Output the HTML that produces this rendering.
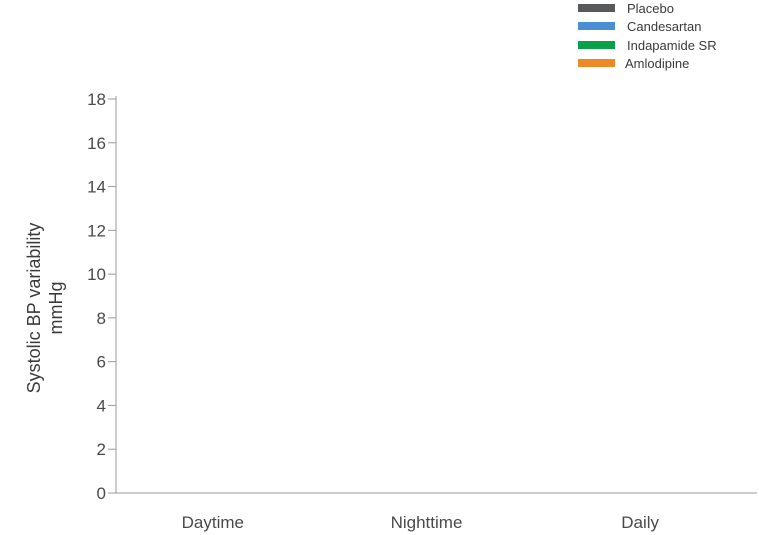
<!DOCTYPE html>
<html><head><meta charset="utf-8"><style>
body{margin:0;background:#fff;}
svg{display:block;font-family:"Liberation Sans",sans-serif;}
</style></head><body>
<svg id="chart" width="759" height="535">
<g id="legend"></g>
<g id="axes"></g>
<g id="bars"></g>
<text transform="translate(40,308) rotate(-90)" text-anchor="middle" font-size="18" fill="#3a3a3a">Systolic BP variability</text>
<text transform="translate(62,308) rotate(-90)" text-anchor="middle" font-size="18" fill="#3a3a3a">mmHg</text>
</svg>
<script>
const categories=["Daytime","Nighttime","Daily"];
const seriesNames=["Placebo","Candesartan","Indapamide SR","Amlodipine"];
const seriesColors=["#58595b","#4a8fd3","#0aa14a","#ee8a26"];
const placebo=[0,0,0];
const candesartan=[0,0,0];
const indapamide=[0,0,0];
const amlodipine=[0,0,0];
const yTicks=[0,2,4,6,8,10,12,14,16,18];

const NS="http://www.w3.org/2000/svg";
function mk(t,a,p){const e=document.createElementNS(NS,t);for(const k in a)e.setAttribute(k,a[k]);p.appendChild(e);return e;}
const x0=116,x1=757,y0=493,yTop=99,yMax=18;
const yS=v=>y0-(v/yMax)*(y0-yTop);
const bw=(x1-x0)/categories.length;
const xC=i=>x0+bw*(i+0.5)-10;
const axes=document.getElementById('axes');
const bars=document.getElementById('bars');
const legend=document.getElementById('legend');
let l=mk('line',{x1:x0,y1:yTop-3,x2:x0,y2:y0,stroke:'#9a9a9a','stroke-width':1},axes);


l=mk('line',{x1:x0-8,y1:y0,x2:x1,y2:y0,stroke:'#9a9a9a','stroke-width':1},axes);


yTicks.forEach(v=>{
 const t=mk('line',{x1:x0-8,x2:x0,y1:yS(v),y2:yS(v),stroke:'#9a9a9a'},axes);
 
 
 const tx=mk('text',{x:x0-10,y:yS(v)+6,'text-anchor':'end','font-size':17,fill:'#4a4a4a'},axes);
 tx.textContent=v;
 
 
});
categories.forEach((c,i)=>{
 const tx=mk('text',{x:xC(i),y:528,'text-anchor':'middle','font-size':17,fill:'#4a4a4a'},axes);
 tx.textContent=c;
 
 
});
const series=[placebo,candesartan,indapamide,amlodipine];
const gw=bw*0.7, sw=gw/series.length;
series.forEach((s,j)=>s.forEach((v,i)=>{
 const x=xC(i)-gw/2+j*sw;
 const r=mk('rect',{x:x,y:yS(v),width:sw-4,height:y0-yS(v),fill:seriesColors[j]},bars);
 
 
}));
const ly=[4,22,41,59];
seriesNames.forEach((n,j)=>{
 const r=mk('rect',{x:578,y:ly[j],width:37,height:8,fill:seriesColors[j]},legend);
 
 
 const t=mk('text',{x:j===3?625:627,y:ly[j]+9,'font-size':13,fill:'#3a3a3a'},legend);
 t.textContent=n;
 
 
});
</script>
</body></html>
